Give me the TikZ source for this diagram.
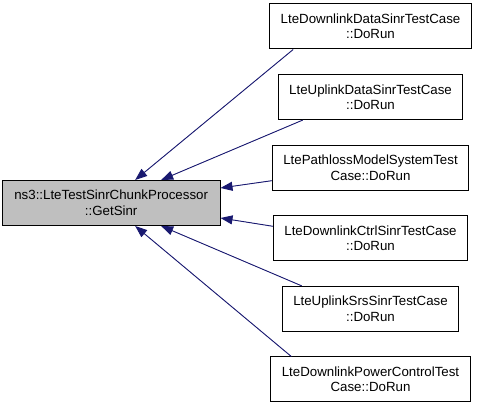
\documentclass[tikz,border=0pt]{standalone}
\usepackage{fontspec}
\setmainfont{Liberation Sans}
\usepackage{xcolor}
\usetikzlibrary{shapes,arrows.meta,positioning,calc}
\definecolor{edgeblue}{HTML}{191970}
\definecolor{mainfill}{HTML}{BFBFBF}

\begin{document}
\begin{tikzpicture}[x=1pt, y=1pt,
    font=\fontsize{13.3}{15.5}\selectfont,
    box/.style={draw, line width=1pt, align=center, minimum height=45pt, inner xsep=11pt},
    calls/.style={{Triangle[length=12pt,width=9pt]}-, line width=0.9pt, draw=edgeblue, fill=edgeblue},
    node distance=24.6pt]
    \useasboundingbox (0,0) rectangle (477,403);

    \node (dldata) [box] at (370.5,376.5) {LteDownlinkDataSinrTestCase\\::DoRun};
    \node (uldata) [box, below=of dldata] {LteUplinkDataSinrTestCase\\::DoRun};
    \node (pathloss) [box, below=of uldata] {LtePathlossModelSystemTest\\Case::DoRun};
    \node (dlctrl) [box, below=of pathloss] {LteDownlinkCtrlSinrTestCase\\::DoRun};
    \node (ulsrs) [box, below=of dlctrl] {LteUplinkSrsSinrTestCase\\::DoRun};
    \node (dlpower) [box, below=of ulsrs] {LteDownlinkPowerControlTest\\Case::DoRun};

    \node (getsinr) [box, fill=mainfill, inner xsep=12pt, left=150pt of $(pathloss)!0.5!(dlctrl)$] {ns3::LteTestSinrChunkProcessor\\::GetSinr};

    \draw [calls] ([xshift=24pt]getsinr.north) -- ([xshift=24pt]dldata.south west);
    \draw [calls] ([xshift=50pt]getsinr.north) -- ([xshift=25pt]uldata.south west);
    \draw [calls] ([yshift=-8pt]getsinr.north east) -- ([yshift=-13pt]pathloss.west);
    \draw [calls] ([yshift=8pt]getsinr.south east) -- ([yshift=12pt]dlctrl.west);
    \draw [calls] ([xshift=50pt]getsinr.south) -- ([xshift=20pt]ulsrs.north west);
    \draw [calls] ([xshift=24pt]getsinr.south) -- ([xshift=21pt]dlpower.north west);

\end{tikzpicture}
\end{document}
